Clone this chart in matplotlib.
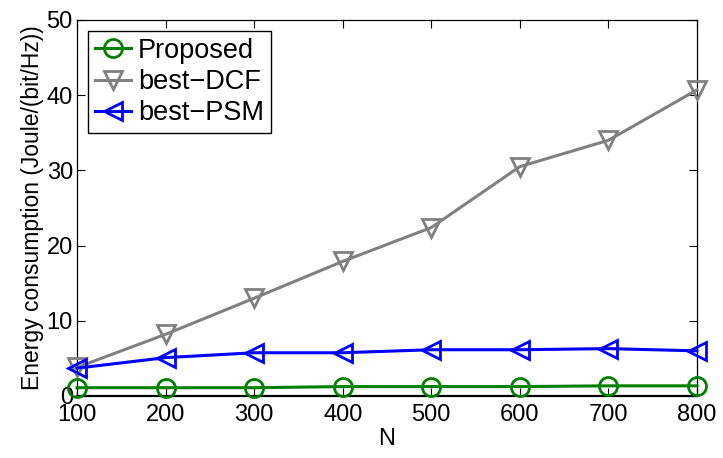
import matplotlib
matplotlib.use("Agg")
import matplotlib.pyplot as plt

N = [100, 200, 300, 400, 500, 600, 700, 800]
proposed = [1.1, 1.1, 1.1, 1.25, 1.25, 1.25, 1.35, 1.35]
best_dcf = [3.8, 8.2, 13.0, 17.9, 22.4, 30.5, 34.0, 40.7]
best_psm = [3.7, 5.1, 5.75, 5.75, 6.15, 6.15, 6.3, 6.0]

plt.rcParams['font.family'] = ['Liberation Sans', 'DejaVu Sans']

fig = plt.figure(figsize=(7.23, 4.58), dpi=100)
ax = fig.add_axes([0.1065, 0.1354, 0.8575, 0.821])

style = dict(lw=2.2, ms=13, mfc='none', mew=2, clip_on=False)
ax.plot(N, proposed, color=(0, 0.5, 0), marker='o', label='Proposed', zorder=4, **style)
ax.plot(N, best_dcf, color=(0.5, 0.5, 0.5), marker='v', label='best\u2212DCF', zorder=3, **style)
ax.plot(N, best_psm, color=(0, 0, 1), marker='<', label='best\u2212PSM', zorder=3, **style)

ax.set_xlim(100, 800)
ax.set_ylim(0, 50)
ax.set_xticks(N)
ax.set_yticks([0, 10, 20, 30, 40, 50])
ax.tick_params(direction='in', top=True, right=True, labelsize=17, length=6,
               width=0.8)
ax.tick_params(axis='x', pad=6)
ax.tick_params(axis='y', pad=3)
for s in ax.spines.values():
    s.set_linewidth(0.9)
ax.spines['bottom'].set_linewidth(1.6)
ax.set_xlabel('N', fontsize=17, labelpad=1)
ax.set_ylabel('Energy consumption (Joule/(bit/Hz))', fontsize=16.5, labelpad=2)

leg = ax.legend(loc='upper left', fontsize=19.5, fancybox=False, framealpha=1,
                edgecolor='black', handlelength=1.35, handletextpad=0.25,
                borderpad=0.25, labelspacing=0.2, borderaxespad=0.4)
leg.get_frame().set_linewidth(1.0)

fig.savefig('out.png', dpi=100)
